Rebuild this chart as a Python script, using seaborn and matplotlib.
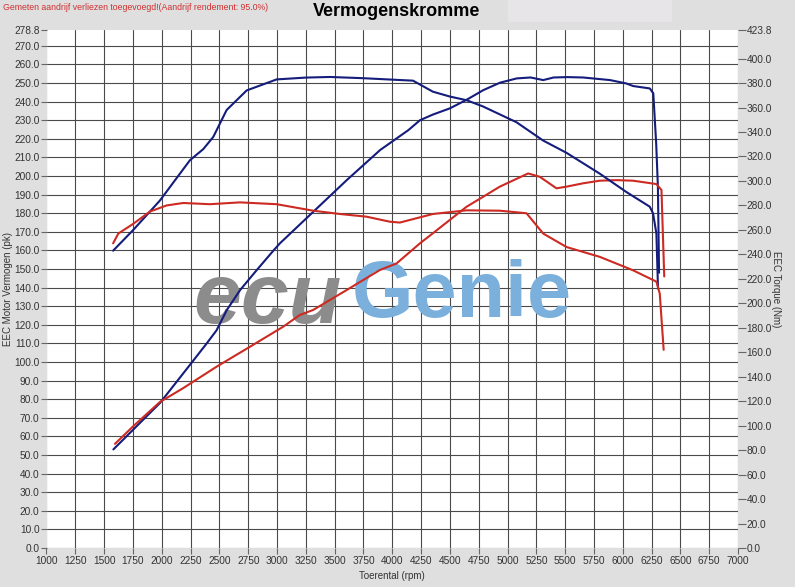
import numpy as np
import seaborn as sns
import matplotlib.pyplot as plt
from matplotlib.patches import Rectangle

# tuned (blue) power, pk
rpm_blue_pwr = [1580, 1750, 1985, 2245, 2390, 2475, 2565, 2680, 2825, 2970, 3025, 3315, 3605,
                3895, 4140, 4240, 4350, 4500, 4645, 4790, 4935, 5080, 5200, 5310, 5400, 5520,
                5655, 5890, 6030, 6090, 6235, 6265, 6290, 6305, 6315]
pwr_blue = [53.0, 63.5, 78.0, 98.5, 110.0, 117.0, 128.0, 138.7, 149.5, 160.0, 163.8, 180.8, 197.8,
            214.0, 224.7, 230.0, 233.0, 236.4, 241.0, 246.2, 250.2, 252.5, 253.0, 251.6, 253.0, 253.2,
            253.0, 251.6, 249.8, 248.4, 247.1, 244.5, 217.6, 194.3, 148.0]

# tuned (blue) torque, Nm
rpm_blue_trq = [1578, 1753, 1984, 2245, 2360, 2447, 2563, 2737, 2997, 3250, 3459, 3748, 4066,
                4180, 4352, 4500, 4645, 4785, 5078, 5310, 5512, 5800, 6031, 6234, 6263, 6292, 6306]
trq_blue = [243.0, 260.0, 284.0, 317.0, 326.0, 336.0, 358.0, 374.0, 383.0, 384.5, 385.0, 384.0, 382.5,
            382.0, 373.0, 369.0, 366.0, 361.0, 348.0, 333.0, 323.0, 306.0, 291.0, 279.0, 273.5, 257.0, 212.0]

# stock (red) power, pk
rpm_red_pwr = [1594, 1753, 1984, 2187, 2476, 2765, 3054, 3198, 3314, 3604, 3893, 4037, 4240,
               4352, 4645, 4790, 4933, 5179, 5280, 5425, 5512, 5656, 5800, 5945, 6089, 6292,
               6336, 6360]
pwr_red = [56.0, 65.5, 78.5, 86.0, 97.5, 108.2, 119.0, 125.3, 128.0, 138.7, 149.5, 153.0, 163.8,
           169.2, 183.5, 188.9, 194.3, 201.4, 199.6, 193.4, 194.3, 196.1, 197.5, 197.8, 197.5, 195.7,
           192.5, 146.0]

# stock (red) torque, Nm
rpm_red_trq = [1578, 1623, 1753, 1898, 2042, 2187, 2418, 2678, 2997, 3314, 3546, 3777, 3979,
               4066, 4352, 4645, 4933, 5165, 5310, 5512, 5800, 6089, 6292, 6321, 6355]
trq_red = [249.0, 257.0, 265.0, 275.0, 280.0, 282.0, 281.0, 282.5, 281.0, 275.7, 273.0, 270.8, 266.7,
           266.0, 273.0, 276.0, 275.7, 273.6, 257.0, 246.0, 238.0, 227.0, 217.7, 208.0, 162.0]

left_ticks = [float(v) for v in range(0, 280, 10)] + [278.8]
right_ticks = [float(v) for v in range(0, 420, 20)] + [423.8]
x_ticks = list(range(1000, 7001, 250))

sns.set_theme(style="white")
plt.rcParams['font.family'] = ['Liberation Sans', 'DejaVu Sans']

bg = '#dfdfdf'
navy = '#141c7c'
red = '#cc2a22'
grid_c = '#4a4a4a'
tick_c = '#333333'

fig = plt.figure(figsize=(7.95, 5.87), dpi=100, facecolor=bg)
fig.patches.append(Rectangle((508 / 795, 1 - 22 / 587), 164 / 795, 22 / 587,
                             transform=fig.transFigure, facecolor='#e8e5e8', edgecolor='none'))
ax = fig.add_axes([46.5 / 795, 1 - 548 / 587, (738 - 46.5) / 795, (548 - 29.5) / 587])
ax.set_facecolor('white')
ax2 = ax.twinx()

# grid
ax.set_axisbelow(True)
ax.set_xticks(x_ticks)
ax.set_yticks(left_ticks)
ax.grid(True, color=grid_c, lw=0.8)
ax.get_ygridlines()[-1].set_visible(False)

# watermark logo
ax.text(3560, 133, 'ecu', fontsize=62, fontweight='bold', fontstyle='italic', color='#8c8c8c',
        ha='right', va='center', zorder=1.5)
ax.text(3650, 135, 'Genie', fontsize=57, fontweight='bold', color='#7ab0db',
        ha='left', va='center', zorder=1.5)

# curves
sns.lineplot(x=rpm_blue_pwr, y=pwr_blue, ax=ax, color=navy, lw=1.5, zorder=3)
sns.lineplot(x=rpm_red_pwr, y=pwr_red, ax=ax, color=red, lw=1.5, zorder=3)
sns.lineplot(x=rpm_blue_trq, y=trq_blue, ax=ax2, color=navy, lw=1.5, zorder=3)
sns.lineplot(x=rpm_red_trq, y=trq_red, ax=ax2, color=red, lw=1.5, zorder=3)

ax.set_xlim(1000, 7000)
ax.set_ylim(0, 278.8)
ax2.set_ylim(0, 423.8)
ax2.set_yticks(right_ticks)
ax2.grid(False)

ax.set_yticklabels([f"{v:.1f}" for v in left_ticks])
ax2.set_yticklabels([f"{v:.1f}" for v in right_ticks])
ax.set_xticklabels([str(v) for v in x_ticks])

for a in (ax, ax2):
    for s in a.spines.values():
        s.set_visible(False)
ax.tick_params(axis='y', which='both', left=True, direction='out', length=4, width=0.8,
               color='#666666', labelsize=7.3, labelcolor=tick_c, pad=1)
ax.tick_params(axis='x', bottom=True, direction='out', length=4, width=0.8,
               color='#666666', labelsize=7.3, labelcolor=tick_c, pad=2)
ax2.tick_params(axis='y', right=True, direction='out', length=6, width=0.8,
                color='#666666', labelsize=7.3, labelcolor=tick_c, pad=0)

ax.set_xlabel('Toerental (rpm)', fontsize=7, color=tick_c)
ax.xaxis.set_label_coords(0.5, -0.045)
ax.set_ylabel('EEC Motor Vermogen (pk)', fontsize=7, color=tick_c)
ax.yaxis.set_label_coords(-0.048, 0.5)
ax2.set_ylabel('EEC Torque (Nm)', fontsize=7, color=tick_c, rotation=270, va='center')
ax2.yaxis.set_label_coords(1.055, 0.5)

fig.text(397 / 795, 1 - 11 / 587, 'Vermogenskromme', fontsize=13, fontweight='bold',
         ha='center', va='center', color='black')
fig.text(3 / 795, 1 - 7 / 587, 'Gemeten aandrijf verliezen toegevoegd!(Aandrijf rendement: 95.0%)',
         fontsize=6.3, ha='left', va='center', color='#d03030')

fig.savefig('out.png', dpi=100, facecolor=bg)
